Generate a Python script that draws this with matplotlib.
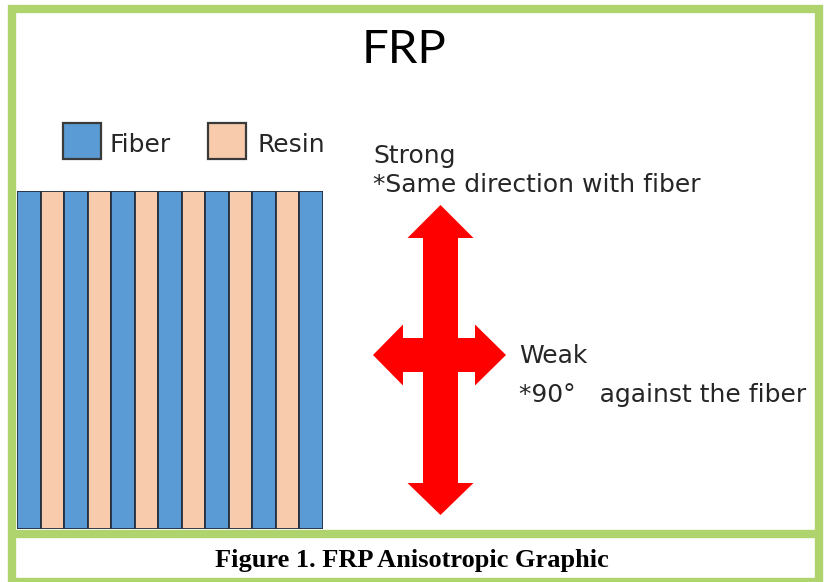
import matplotlib.pyplot as plt
from matplotlib.patches import Rectangle, Polygon

plt.rcParams['font.family'] = ['DejaVu Sans']

# stripe layers, left to right
layers = ['Fiber', 'Resin', 'Fiber', 'Resin', 'Fiber', 'Resin', 'Fiber',
          'Resin', 'Fiber', 'Resin', 'Fiber', 'Resin', 'Fiber']
legend_labels = ['Fiber', 'Resin']
layer_colors = {'Fiber': '#5B9BD5', 'Resin': '#F8CBAD'}

title = 'FRP'
strong_lines = ['Strong', '*Same direction with fiber']
weak_lines = ['Weak', '*90°   against the fiber']
caption = 'Figure 1. FRP Anisotropic Graphic'

W, H = 825, 582
green = '#AFD46E'
txt = '#262626'

fig = plt.figure(figsize=(W / 100, H / 100), dpi=100)
ax = fig.add_axes([0, 0, 1, 1])
ax.set_xlim(0, W)
ax.set_ylim(H, 0)
ax.axis('off')

# green frame + separator above caption
ax.add_patch(Rectangle((12, 9), 807, 573, fill=False, edgecolor=green, linewidth=6, zorder=5))
ax.plot([8, 823], [534, 534], color=green, linewidth=6, zorder=5, solid_capstyle='butt')

ax.text(404, 63, title, fontsize=34, color='black', ha='center', va='baseline',
        family=['Lato', 'DejaVu Sans'])

# legend boxes
for lab, x0, tx in zip(legend_labels, [63, 208], [110, 257]):
    ax.add_patch(Rectangle((x0, 123), 38, 36, facecolor=layer_colors[lab],
                           edgecolor='#3A3A3A', linewidth=1.6))
    ax.text(tx, 152, lab, fontsize=18, color=txt, ha='left', va='baseline')

# double cross arrow
cx, cy = 440.5, 355
arrow = [(cx, 205), (cx + 33, 238), (cx + 17.5, 238), (cx + 17.5, cy - 17),
         (475, cy - 17), (475, cy - 30.5), (506, cy), (475, cy + 30.5), (475, cy + 17),
         (cx + 17.5, cy + 17), (cx + 17.5, 483), (cx + 33, 483), (cx, 515),
         (cx - 33, 483), (cx - 17.5, 483), (cx - 17.5, cy + 17), (403, cy + 17),
         (403, cy + 30.5), (373, cy), (403, cy - 30.5), (403, cy - 17),
         (cx - 17.5, cy - 17), (cx - 17.5, 238), (cx - 33, 238)]
ax.add_patch(Polygon(arrow, closed=True, facecolor='#FF0000', edgecolor='none'))

ax.text(373, 163, strong_lines[0], fontsize=18, color=txt, va='baseline')
ax.text(373, 192, strong_lines[1], fontsize=18, color=txt, va='baseline')
ax.text(519, 363, weak_lines[0], fontsize=18, color=txt, va='baseline')
ax.text(519, 402, weak_lines[1], fontsize=18, color=txt, va='baseline')

ax.text(412, 567, caption, fontsize=19, fontweight='bold', color='black',
        family='Liberation Serif', ha='center', va='baseline')

# fiber / resin stripes
sx = fig.add_axes([17 / W, (H - 529) / H, 306 / W, 338 / H])
sx.bar(range(len(layers)), [1] * len(layers), width=1, align='edge',
       color=[layer_colors[l] for l in layers], edgecolor='#253040', linewidth=1.3)
sx.set_xlim(0, len(layers))
sx.set_ylim(0, 1)
sx.axis('off')

fig.savefig('out.png', dpi=100)
